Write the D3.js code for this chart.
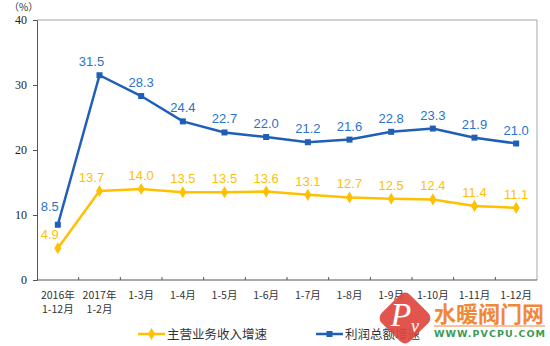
<!DOCTYPE html>
<html>
<head>
<meta charset="utf-8">
<script src="https://cdn.jsdelivr.net/npm/d3@7"></script>
<style>
  html, body { margin: 0; padding: 0; background: #fff; }
  svg { display: block; }
</style>
</head>
<body>
<svg id="chart" width="550" height="346"></svg>
<script>
// Periods on the x axis (two lines each)
const categories = [
  ["2016年", "1-12月"], ["2017年", "1-2月"], ["1-3月"], ["1-4月"], ["1-5月"], ["1-6月"],
  ["1-7月"], ["1-8月"], ["1-9月"], ["1-10月"], ["1-11月"], ["1-12月"]
];
// 主营业务收入增速 (%)
const revenueGrowth = [4.9, 13.7, 14.0, 13.5, 13.5, 13.6, 13.1, 12.7, 12.5, 12.4, 11.4, 11.1];
// 利润总额增速 (%)
const profitGrowth = [8.5, 31.5, 28.3, 24.4, 22.7, 22.0, 21.2, 21.6, 22.8, 23.3, 21.9, 21.0];
const yTicks = [0, 10, 20, 30, 40];
const seriesNames = ["主营业务收入增速", "利润总额增速"];

const YELLOW = "#ffc000", BLUE = "#1f5fb8", BLUE_TEXT = "#2a72cc";
const svg = d3.select("#chart");
const m = { left: 37, right: 537, top: 20, bottom: 280 };

const x = d3.scaleBand().domain(d3.range(categories.length)).range([m.left, m.right]);
const y = d3.scaleLinear().domain([0, 40]).range([m.bottom, m.top]);
const cx = i => x(i) + x.bandwidth() / 2;

// plot frame (top and right)
svg.append("path")
  .attr("d", `M${m.left},${m.top}H${m.right}V${m.bottom}`)
  .attr("fill", "none").attr("stroke", "#a6a6a6").attr("stroke-width", 1);

// y axis
const yAxis = svg.append("g").attr("transform", `translate(${m.left},0)`)
  .call(d3.axisLeft(y).tickValues(yTicks).tickSize(4).tickPadding(6));
yAxis.select(".domain").attr("stroke", "#555");
yAxis.selectAll(".tick line").attr("stroke", "#555");
yAxis.selectAll(".tick text")
  .attr("font-family", "'Liberation Serif', 'DejaVu Serif', serif")
  .attr("font-size", 12).attr("fill", "#222");

svg.append("text").attr("x", 9).attr("y", 11)
  .attr("font-family", "'Noto Sans CJK SC', sans-serif").attr("font-size", 10).attr("fill", "#333")
  .text("（%）");

// x axis with inward ticks on band boundaries
const xAxis = svg.append("g").attr("transform", `translate(0,${m.bottom})`);
xAxis.append("line").attr("x1", m.left).attr("x2", m.right)
  .attr("stroke", "#555").attr("stroke-width", 1);
xAxis.selectAll("line.tk").data(d3.range(1, categories.length)).join("line")
  .attr("class", "tk")
  .attr("x1", i => x(i)).attr("x2", i => x(i)).attr("y1", 0).attr("y2", -3)
  .attr("stroke", "#555");
const xl = xAxis.selectAll("text.xl").data(categories).join("text")
  .attr("class", "xl")
  .attr("text-anchor", "middle")
  .attr("font-family", "'Noto Sans CJK SC', sans-serif")
  .attr("font-size", 10.5).attr("fill", "#333");
xl.each(function (d, i) {
  const t = d3.select(this);
  d.forEach((s, k) => {
    t.append("tspan").attr("x", cx(i)).attr("y", 19 + k * 14).text(s);
  });
});

// lines
const line = d3.line().x((d, i) => cx(i)).y(d => y(d));
svg.append("path").datum(revenueGrowth).attr("d", line)
  .attr("fill", "none").attr("stroke", YELLOW).attr("stroke-width", 2.5);
svg.append("path").datum(profitGrowth).attr("d", line)
  .attr("fill", "none").attr("stroke", BLUE).attr("stroke-width", 2.5);

// markers
const diamond = d3.symbol().type(d3.symbolDiamond).size(42);
svg.selectAll("path.rv").data(revenueGrowth).join("path").attr("class", "rv")
  .attr("d", diamond).attr("transform", (d, i) => `translate(${cx(i)},${y(d)})`)
  .attr("fill", YELLOW);
svg.selectAll("rect.pf").data(profitGrowth).join("rect").attr("class", "pf")
  .attr("x", (d, i) => cx(i) - 3).attr("y", d => y(d) - 3)
  .attr("width", 6).attr("height", 6).attr("fill", BLUE);

// value labels
const labelFont = "'Liberation Sans', Arial, sans-serif";
const dxFor = i => (i < 2 ? -8 : 0);
svg.selectAll("text.lp").data(profitGrowth).join("text").attr("class", "lp")
  .attr("x", (d, i) => cx(i) + dxFor(i)).attr("y", (d, i) => y(d) - (i === 0 ? 14 : 9))
  .attr("text-anchor", "middle").attr("font-family", labelFont).attr("font-size", 13)
  .attr("fill", BLUE_TEXT).text(d => d.toFixed(1));
svg.selectAll("text.lr").data(revenueGrowth).join("text").attr("class", "lr")
  .attr("x", (d, i) => cx(i) + dxFor(i)).attr("y", d => y(d) - 9)
  .attr("text-anchor", "middle").attr("font-family", labelFont).attr("font-size", 13)
  .attr("fill", YELLOW).text(d => d.toFixed(1));

// legend
const legend = [
  { name: seriesNames[0], color: YELLOW, x: 138, marker: "diamond" },
  { name: seriesNames[1], color: BLUE, x: 316, marker: "square" }
];
const lg = svg.selectAll("g.lg").data(legend).join("g").attr("class", "lg")
  .attr("transform", d => `translate(${d.x},334)`);
lg.append("line").attr("x1", 0).attr("x2", 27).attr("stroke", d => d.color).attr("stroke-width", 2.5);
lg.filter(d => d.marker === "diamond").append("path")
  .attr("d", diamond).attr("transform", "translate(13.5,0)").attr("fill", d => d.color);
lg.filter(d => d.marker === "square").append("rect")
  .attr("x", 10.5).attr("y", -3).attr("width", 6).attr("height", 6).attr("fill", d => d.color);
lg.append("text").attr("x", 29).attr("y", 4.5)
  .attr("font-family", "'Noto Sans CJK SC', sans-serif").attr("font-size", 12.5).attr("fill", "#333")
  .text(d => d.name);

// site logo
const logo = svg.append("g").attr("transform", "translate(405,318)");
logo.append("rect").attr("x", -20).attr("y", -20).attr("width", 40).attr("height", 40)
  .attr("rx", 7).attr("transform", "rotate(45)").attr("fill", "#e0463f").attr("opacity", 0.92);
logo.append("text").attr("x", -4).attr("y", 8).attr("text-anchor", "middle")
  .attr("font-family", "'Liberation Serif', serif").attr("font-style", "italic")
  .attr("font-size", 34).attr("fill", "#fff").text("P");
logo.append("text").attr("x", 10).attr("y", 14).attr("text-anchor", "middle")
  .attr("font-family", "'Liberation Serif', serif").attr("font-style", "italic")
  .attr("font-size", 18).attr("fill", "#fff").text("v");
svg.append("text").attr("x", 434).attr("y", 322)
  .attr("font-family", "'Noto Sans CJK SC', sans-serif").attr("font-weight", "bold")
  .attr("font-size", 22).attr("fill", "#f0883a").attr("textLength", 110)
  .text("水暖阀门网");
svg.append("line").attr("x1", 434).attr("x2", 545).attr("y1", 326).attr("y2", 326)
  .attr("stroke", "#f0883a").attr("stroke-width", 1);
svg.append("text").attr("x", 434).attr("y", 337)
  .attr("font-family", "'DejaVu Sans', sans-serif").attr("font-weight", "bold")
  .attr("font-size", 9.5).attr("fill", "#3c9a55").attr("textLength", 111)
  .text("WWW.PVCPU.COM");
</script>
</body>
</html>
